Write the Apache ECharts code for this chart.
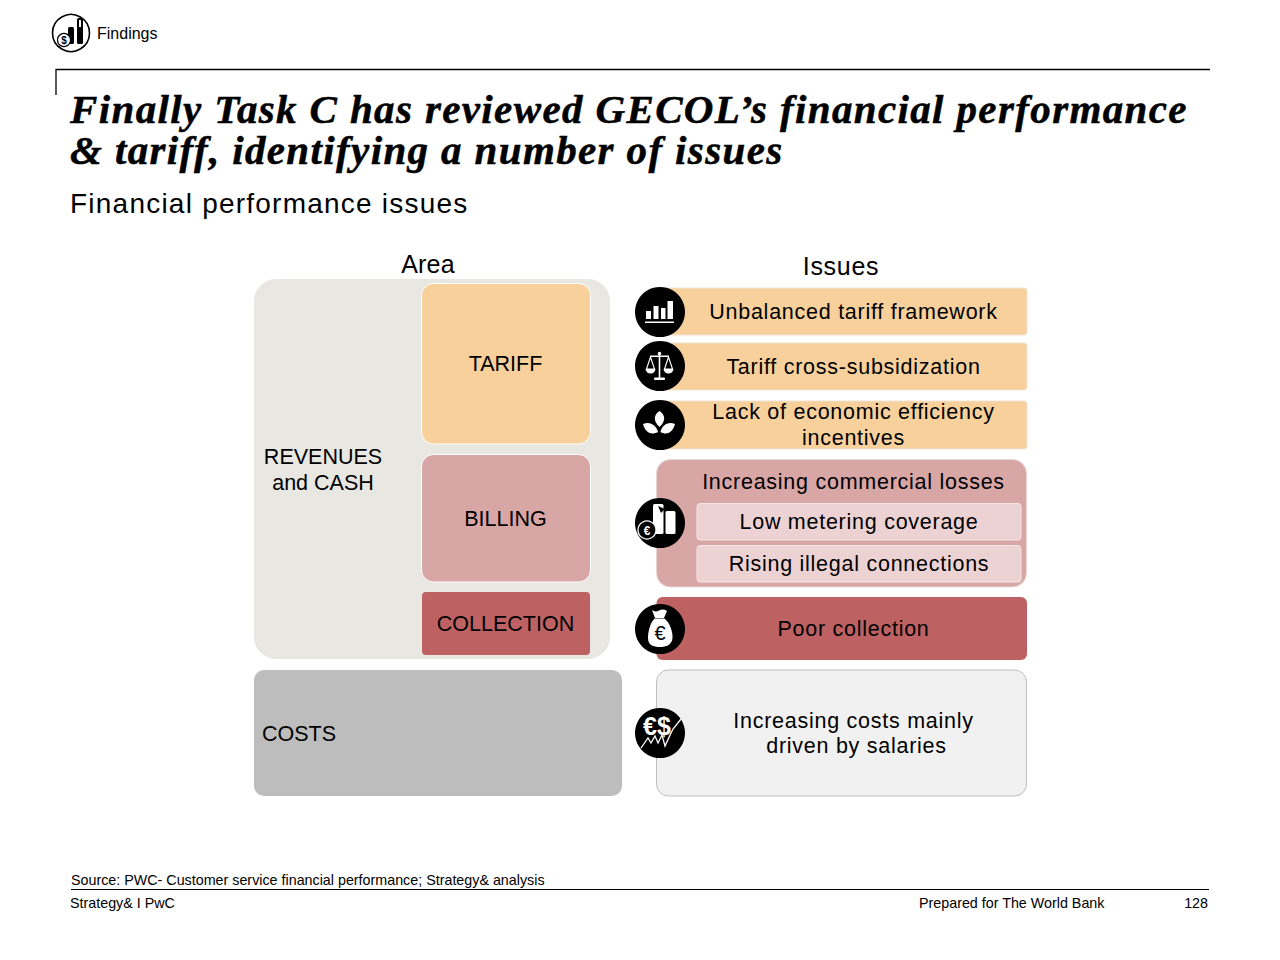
<!DOCTYPE html>
<html><head><meta charset="utf-8">
<style>html,body{margin:0;padding:0;background:#fff}#c{width:1280px;height:960px}</style>
<script src="https://cdn.jsdelivr.net/npm/echarts@6/dist/echarts.min.js"></script>
</head><body><div id="c"></div>
<script>
const sectionLabel = 'Findings';
const titleLines = ['Finally Task C has reviewed GECOL’s financial performance', '& tariff, identifying a number of issues'];
const subtitle = 'Financial performance issues';
const columnHeads = ['Area', 'Issues'];
const areaLabels = ['REVENUES\nand CASH', 'TARIFF', 'BILLING', 'COLLECTION', 'COSTS'];
const issueLabels = ['Unbalanced tariff framework', 'Tariff cross-subsidization', 'Lack of economic efficiency\nincentives',
  'Increasing commercial losses', 'Low metering coverage', 'Rising illegal connections', 'Poor collection', 'Increasing costs mainly\ndriven by salaries'];
const sourceNote = 'Source: PWC- Customer service financial performance; Strategy& analysis';
const footerLabels = ['Strategy& I PwC', 'Prepared for The World Bank', '128'];

const SANS = '"Liberation Sans", Arial, sans-serif';
const SERIF = '"Liberation Serif", serif';
const OR = '#F7D09B', PK = '#D9A6A6', RD = '#BE6163', LP = '#EDD2D3';
const els = [];
let pathCount = 0;
function box(x0, y0, x1, y1, r, fill, stroke) {
  els.push({type:'rect', shape:{x:x0, y:y0, width:x1-x0, height:y1-y0, r}, style:{fill, stroke:stroke||null, lineWidth:stroke?1:0}});
}
function txt(s, x, y, size, align, opt) {
  opt = opt || {};
  const style = {text:s, fontFamily:opt.family||SANS, fontSize:size, fontWeight:opt.weight||'normal', fontStyle:opt.style||'normal',
    fill:opt.fill||'#000', align, verticalAlign:'middle', lineHeight:opt.lh||Math.round(size*1.2)};
  if (opt.stroke) { style.stroke = opt.stroke; style.lineWidth = opt.sw; }
  els.push({type:'text', x, y, style});
}
function line(pts, color, w) { els.push({type:'polyline', shape:{points:pts}, style:{stroke:color, lineWidth:w, fill:null}}); }
function circ(cx, cy, r, fill, stroke, w) { els.push({type:'circle', shape:{cx, cy, r}, style:{fill, stroke:stroke||null, lineWidth:w||0}}); }
function poly(pts, fill) { els.push({type:'polygon', shape:{points:pts}, style:{fill}}); }
function path(d, fill) {
  const name = 'iconPath' + (pathCount++);
  echarts.graphic.registerShape(name, echarts.graphic.extendPath(d, {}));
  els.push({type:name, style:{fill}});
}

// header
circ(71, 33, 18.5, '#fff', '#000', 1.6);
box(68, 27, 74, 44, 1.5, '#000'); box(77, 18, 83, 44, 1.5, '#000');
box(79, 20, 81, 27, 0, '#fff');
circ(64, 40, 6.5, '#fff', '#000', 1.2);
txt('$', 64, 40.5, 10, 'center', {weight:'bold'});
txt(sectionLabel, 97, 33.5, 16, 'left');
line([[56,95],[56,69.5],[1210,69.5]], '#000', 1.3);
const titleOpt = {family:SERIF, weight:'bold', style:'italic', stroke:'#000', sw:0.5, lh:38};
txt(titleLines[0], 70, 109, 41, 'left', titleOpt);
txt(titleLines[1], 70, 150, 41, 'left', titleOpt);
txt(subtitle, 70, 203.5, 28, 'left');

// column heads
txt(columnHeads[0], 428, 263.5, 25, 'center');
txt(columnHeads[1], 841, 265.5, 25, 'center');

// area column
box(254, 279, 610, 659, 22, '#E8E7E2');
box(421.5, 283.5, 590.5, 444, 12, OR, '#fff');
box(421.5, 454.5, 590.5, 582, 12, PK, '#fff');
box(422, 592, 590, 655, 4, RD);
box(254, 670, 622, 796, 10, '#BDBDBD');
txt(areaLabels[0], 323, 470, 21.5, 'center', {lh:26});
txt(areaLabels[1], 505.5, 363.5, 21.5, 'center');
txt(areaLabels[2], 505.5, 519, 21.5, 'center');
txt(areaLabels[3], 505.5, 624, 21.5, 'center');
txt(areaLabels[4], 262, 734, 21.5, 'left');

// issue column
box(660, 288, 1027, 335, 3, OR, '#EFE3D2');
box(660, 343, 1027, 390, 3, OR, '#EFE3D2');
box(660, 401, 1027, 449, 3, OR, '#EFE3D2');
box(656.5, 459.5, 1026.5, 587, 14, PK, '#E8D5D5');
box(697, 503.5, 1021, 540, 3, LP, '#F4E6E6');
box(697, 545.5, 1021, 582, 3, LP, '#F4E6E6');
box(656.5, 597, 1027, 660, 6, RD);
box(656.5, 670, 1026.5, 796, 12, '#F1F1F1', '#BDBDBD');
const IS = 21.5;
txt(issueLabels[0], 853.5, 312, IS, 'center');
txt(issueLabels[1], 853.5, 367, IS, 'center');
txt(issueLabels[2], 853.5, 425, IS, 'center', {lh:26});
txt(issueLabels[3], 853.5, 482, IS, 'center');
txt(issueLabels[4], 859, 522, IS, 'center');
txt(issueLabels[5], 859, 564, IS, 'center');
txt(issueLabels[6], 853.5, 629, IS, 'center');
const costLines = issueLabels[7].split('\n');
txt(costLines[0], 853.5, 721, IS, 'center');
txt(costLines[1], 856.5, 746, IS, 'center');

// icon discs
[312, 366, 425, 523, 629, 733].forEach(cy => circ(660, cy, 25, '#000'));
// bars icon
box(646,311,651,319,0,'#fff'); box(653.5,306,658.5,319,0,'#fff'); box(661,308,665.5,319,0,'#fff'); box(667.5,301,673,319,0,'#fff');
box(645,321.5,674,323,0,'#fff');
// scales icon
box(658.7,353,660.3,378,0,'#fff'); box(650,355.5,669,357,0,'#fff'); box(654,377.5,665,380,1,'#fff');
circ(659.5,353.5,1.8,'#fff');
line([[650.5,357],[646.5,369],[654.5,369],[650.5,357]],'#fff',1.1);
line([[668.5,357],[664.5,369],[672.5,369],[668.5,357]],'#fff',1.1);
path('M645.5 369 L655.5 369 Q654.5 373.5 650.5 373.5 Q646.5 373.5 645.5 369Z','#fff');
path('M663.5 369 L673.5 369 Q672.5 373.5 668.5 373.5 Q664.5 373.5 663.5 369Z','#fff');
// leaves icon
path('M659.5 411 C665.5 415 666 421 659.5 427 C653 421 653.5 415 659.5 411Z','#fff');
path('M643 424 C650 421 656 425 658 432 C652 435 646 434 643 424Z','#fff');
path('M675 424 C668 421 662 425 660.5 432 C666 435 672 434 675 424Z','#fff');
// billing icon
box(653,504,663.5,534,1.5,'#fff'); box(665.5,511,675.5,534,1.5,'#fff');
poly([[658,506],[665,509],[661,513]],'#000');
circ(647,530,9,'#000','#fff',1.3);
txt('€', 647,530.5,12,'center',{fill:'#fff',weight:'bold'});
// bag icon
path('M652 610 Q655.5 612.5 659 610.5 Q663 608.5 667 611 L664 618 L655 618Z','#fff');
path('M654.5 618.5 L664.5 618.5 C670 623 673 632 672.5 638 C672 645 666 647 660 647 C653 647 648 645 648 638 C648 632 650 623 654.5 618.5Z','#fff');
txt('€', 660, 632.5, 20, 'center');
// costs icon
txt('€$', 657, 725.5, 25, 'center', {fill:'#fff', weight:'bold'});
line([[641,748],[648,738],[651,743],[655,736],[658,743],[662,735],[665,746],[671,733],[673,729],[681,719]],'#fff',1.3);

// footer
txt(sourceNote, 71, 880, 14.3, 'left');
line([[71,889.5],[1209,889.5]], '#000', 1);
txt(footerLabels[0], 70, 903, 14.3, 'left');
txt(footerLabels[1], 919, 903, 14.3, 'left');
txt(footerLabels[2], 1208, 903, 14.3, 'right');

const chart = echarts.init(document.getElementById('c'), null, {renderer:'svg', width:1280, height:960});
chart.setOption({animation:false, backgroundColor:'#fff', graphic:{elements:els}});
// tracking for the spaced text styles of the slide
const spacing = {};
issueLabels.forEach(s => s.split('\n').forEach(p => spacing[p] = '0.74px'));
spacing[subtitle] = '1.23px'; spacing[columnHeads[1]] = '0.7px'; spacing[columnHeads[0]] = '0.2px';
titleLines.forEach(s => spacing[s] = '1.37px');
document.querySelectorAll('#c svg text').forEach(t => { const v = spacing[t.textContent]; if (v) t.style.letterSpacing = v; });
</script></body></html>
